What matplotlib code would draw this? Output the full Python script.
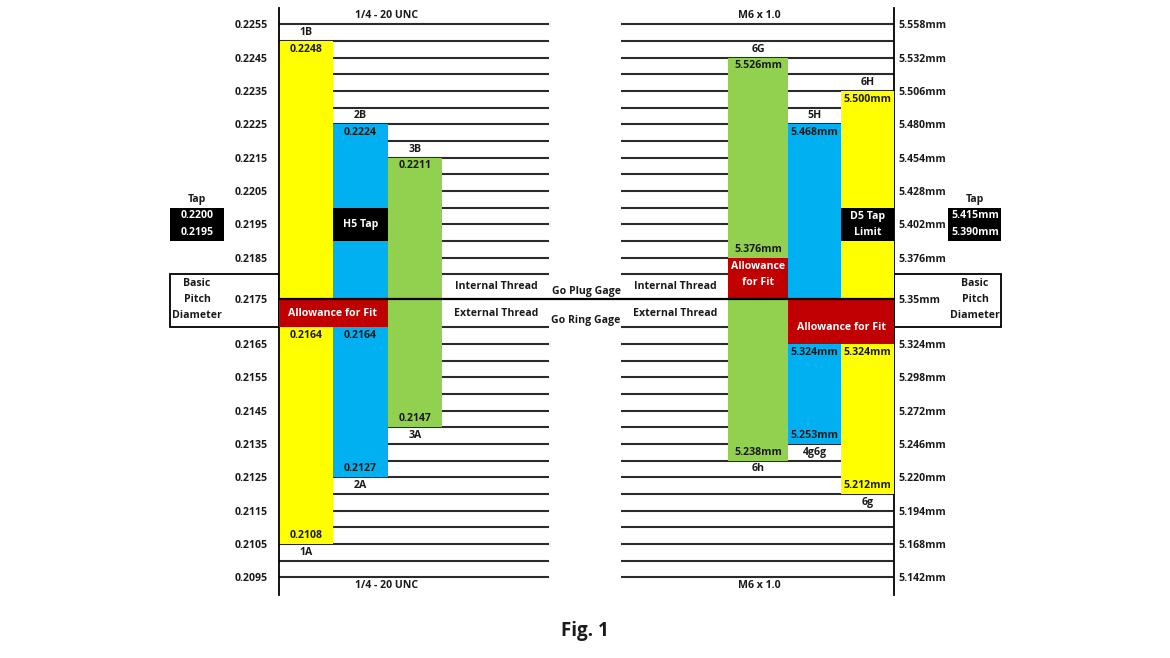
import numpy as np
import matplotlib.pyplot as plt
from matplotlib.patches import Rectangle

plt.rcParams['font.family'] = ['Open Sans', 'DejaVu Sans']
plt.rcParams['font.weight'] = 'bold'
plt.rcParams['font.size'] = 7.6

# -----------------------------------------------------
# 1/4 - 20 UNC (inch side)
# -----------------------------------------------------
inch_ticks = [0.2255, 0.2245, 0.2235, 0.2225, 0.2215, 0.2205, 0.2195, 0.2185,
              0.2175, 0.2165, 0.2155, 0.2145, 0.2135, 0.2125, 0.2115, 0.2105, 0.2095]
basic_in = 0.2175
in_int_class = ["1B", "2B", "3B"]
in_int_top = [0.2250, 0.2225, 0.2215]
in_int_label = ["0.2248", "0.2224", "0.2211"]
in_ext_class = ["1A", "2A", "3A"]
in_ext_top = [0.2170, 0.2170, 0.2175]
in_ext_bottom = [0.2105, 0.2125, 0.2140]
in_ext_top_label = ["0.2164", "0.2164", ""]
in_ext_bottom_label = ["0.2108", "0.2127", "0.2147"]
in_allow = (0.2175, 0.2170)
in_tap_box = (0.2200, 0.2190)
in_tap_limits = ["0.2200", "0.2195"]

# -----------------------------------------------------
# M6 x 1.0 (metric side)
# -----------------------------------------------------
mm_ticks = [5.558, 5.532, 5.506, 5.480, 5.454, 5.428, 5.402, 5.376,
            5.35, 5.324, 5.298, 5.272, 5.246, 5.220, 5.194, 5.168, 5.142]
mm_tick_labels = ["5.558mm", "5.532mm", "5.506mm", "5.480mm", "5.454mm", "5.428mm",
                  "5.402mm", "5.376mm", "5.35mm", "5.324mm", "5.298mm", "5.272mm",
                  "5.246mm", "5.220mm", "5.194mm", "5.168mm", "5.142mm"]
basic_mm = 5.35
mm_int_class = ["6G", "5H", "6H"]
mm_int_top = [5.532, 5.480, 5.506]
mm_int_bottom = [5.376, 5.35, 5.35]
mm_int_label = ["5.526mm", "5.468mm", "5.500mm"]
mm_ext_class = ["6h", "4g6g", "6g"]
mm_ext_top = [5.35, 5.324, 5.324]
mm_ext_bottom = [5.233, 5.246, 5.207]
mm_ext_top_label = ["", "5.324mm", "5.324mm"]
mm_ext_bottom_label = ["5.238mm", "5.253mm", "5.212mm"]
mm_allow_int = (5.376, 5.35)
mm_allow_ext = (5.35, 5.324)
mm_tap_box = (5.415, 5.389)
mm_tap_limits = ["5.415mm", "5.390mm"]

YELLOW, BLUE, GREEN, RED = "#FFFF00", "#00B0F0", "#92D050", "#C00000"
in_colors = [YELLOW, BLUE, GREEN]
mm_colors = [GREEN, BLUE, YELLOW]
TXT = "#1a1a1a"
LINE = "#2b2b2b"

# layout (x in pixels)
in_edges = [279, 333, 388, 442]
mm_edges = [728, 788, 841, 894]
in_lines = (279, 549)
mm_lines = (621, 894)

# -----------------------------------------------------
# y scale: linear, with the band around basic pitch stretched open
# -----------------------------------------------------
V = [0.19, 0.2170, 0.2175, 0.2180, 0.24]
U = [-1227.33, -327.33, -299.33, -274.33, 459.0]


def fwd(v):
    return np.interp(v, V, U)


def inv(u):
    return np.interp(u, U, V)


def mm_to_in(m):
    return basic_in + (np.asarray(m, dtype=float) - basic_mm) / 26.0


def in_to_mm(v):
    return basic_mm + (np.asarray(v, dtype=float) - basic_in) * 26.0


fig = plt.figure(figsize=(11.7, 6.58), dpi=100)
ax = fig.add_axes([279 / 1170, 1 - 595 / 658, (894 - 279) / 1170, 587 / 658])
ax.set_yscale('function', functions=(fwd, inv))
ylo, yhi = float(inv(-595)), float(inv(-8))
ax.set_ylim(ylo, yhi)
ax.set_xlim(279, 894)
ax.set_xticks([])
for s in ["top", "bottom"]:
    ax.spines[s].set_visible(False)
for s in ["left", "right"]:
    ax.spines[s].set_linewidth(1.3)
ax.set_yticks(inch_ticks)
ax.set_yticklabels([f"{t:.4f}" for t in inch_ticks])
ax.tick_params(axis='y', length=0, pad=8, labelsize=7.6, labelcolor=TXT)

axr = ax.twinx()
axr.set_yscale('function', functions=(lambda m: fwd(mm_to_in(m)), lambda u: in_to_mm(inv(u))))
axr.set_ylim(float(in_to_mm(ylo)), float(in_to_mm(yhi)))
for s in axr.spines.values():
    s.set_visible(False)
axr.set_yticks(mm_ticks)
axr.set_yticklabels(mm_tick_labels)
axr.tick_params(axis='y', length=0, pad=3, labelsize=7.6, labelcolor=TXT)

# grid lines
row = 0.0005
rows = [r for r in np.round(np.arange(0.2095, 0.2255 + row / 2, row), 4)
        if not (0.2170 < r < 0.2180)]
ax.hlines(rows, *in_lines, color=LINE, lw=1.5, zorder=1)
ax.hlines(rows, *mm_lines, color=LINE, lw=1.5, zorder=1)

in_xc = [(a + b) / 2 for a, b in zip(in_edges[:-1], in_edges[1:])]
in_w = [b - a for a, b in zip(in_edges[:-1], in_edges[1:])]
mm_xc = [(a + b) / 2 for a, b in zip(mm_edges[:-1], mm_edges[1:])]
mm_w = [b - a for a, b in zip(mm_edges[:-1], mm_edges[1:])]

# ---- inch bars ----
for i in range(3):
    ax.bar(in_xc[i], in_int_top[i] - basic_in, bottom=basic_in, width=in_w[i],
           color=in_colors[i], lw=0, zorder=2)
    ax.bar(in_xc[i], in_ext_top[i] - in_ext_bottom[i], bottom=in_ext_bottom[i],
           width=in_w[i], color=in_colors[i], lw=0, zorder=2)
    ax.text(in_xc[i], in_int_top[i] + row / 2, in_int_class[i], ha='center', va='center', color=TXT)
    ax.text(in_xc[i], in_int_top[i] - row / 2, in_int_label[i], ha='center', va='center', color=TXT)
    if in_ext_top_label[i]:
        ax.text(in_xc[i], in_ext_top[i] - row / 2, in_ext_top_label[i], ha='center', va='center', color=TXT)
    ax.text(in_xc[i], in_ext_bottom[i] + row / 2, in_ext_bottom_label[i], ha='center', va='center', color=TXT)
    ax.text(in_xc[i], in_ext_bottom[i] - row / 2, in_ext_class[i], ha='center', va='center', color=TXT)

ax.add_patch(Rectangle((in_edges[0], in_allow[1]), in_edges[2] - in_edges[0],
                       in_allow[0] - in_allow[1], color=RED, lw=0, zorder=3))
ax.text(in_edges[1], sum(in_allow) / 2, "Allowance for Fit", ha='center', va='center',
        color='white', fontsize=7.6, zorder=4)
ax.add_patch(Rectangle((in_edges[1], in_tap_box[1]), in_w[1], in_tap_box[0] - in_tap_box[1],
                       color='black', lw=0, zorder=3))
ax.text(in_xc[1], sum(in_tap_box) / 2, "H5 Tap", ha='center', va='center', color='white', zorder=4)

# tap box and basic pitch box (left, outside axes)
ax.add_patch(Rectangle((170, in_tap_box[1]), 54, in_tap_box[0] - in_tap_box[1],
                       color='black', lw=0, clip_on=False))
ax.text(197, in_tap_box[0] + row / 2, "Tap", ha='center', va='center', color=TXT)
ax.text(197, in_tap_box[0] - row / 2, in_tap_limits[0], ha='center', va='center', color='white')
ax.text(197, in_tap_box[0] - 1.5 * row, in_tap_limits[1], ha='center', va='center', color='white')
ax.add_patch(Rectangle((170, 0.2170), 109, 0.0010, fill=False, ec='black', lw=1.3, clip_on=False))
ax.text(197, basic_in, "Basic\nPitch\nDiameter", ha='center', va='center', color=TXT,
        linespacing=1.65)

# middle labels
ax.text(496, 0.21775, "Internal Thread", ha='center', va='center', color=TXT)
ax.text(496, 0.21725, "External Thread", ha='center', va='center', color=TXT)
ax.text(675, 0.21775, "Internal Thread", ha='center', va='center', color=TXT)
ax.text(675, 0.21725, "External Thread", ha='center', va='center', color=TXT)
ax.text(586, 0.21765, "Go Plug Gage", ha='center', va='center', color=TXT)
ax.text(586, 0.21713, "Go Ring Gage", ha='center', va='center', color=TXT)

ax.text(387, 0.22575, "1/4 - 20 UNC", ha='center', va='center', color=TXT)
ax.text(387, 0.20925, "1/4 - 20 UNC", ha='center', va='center', color=TXT)
ax.text(759, 0.22575, "M6 x 1.0", ha='center', va='center', color=TXT)
ax.text(759, 0.20925, "M6 x 1.0", ha='center', va='center', color=TXT)

# ---- metric bars ----
mrow = 0.013
for i in range(3):
    axr.bar(mm_xc[i], mm_int_top[i] - mm_int_bottom[i], bottom=mm_int_bottom[i], width=mm_w[i],
            color=mm_colors[i], lw=0, zorder=2)
    axr.bar(mm_xc[i], mm_ext_top[i] - mm_ext_bottom[i], bottom=mm_ext_bottom[i], width=mm_w[i],
            color=mm_colors[i], lw=0, zorder=2)
    axr.text(mm_xc[i], mm_int_top[i] + mrow / 2, mm_int_class[i], ha='center', va='center', color=TXT)
    axr.text(mm_xc[i], mm_int_top[i] - mrow / 2, mm_int_label[i], ha='center', va='center', color=TXT)
    if mm_ext_top_label[i]:
        axr.text(mm_xc[i], mm_ext_top[i] - mrow / 2, mm_ext_top_label[i], ha='center', va='center', color=TXT)
    axr.text(mm_xc[i], mm_ext_bottom[i] + mrow / 2, mm_ext_bottom_label[i], ha='center', va='center', color=TXT)
    axr.text(mm_xc[i], mm_ext_bottom[i] - mrow / 2, mm_ext_class[i], ha='center', va='center', color=TXT)

axr.text(mm_xc[0], mm_int_bottom[0] + mrow / 2, "5.376mm", ha='center', va='center', color=TXT)
axr.add_patch(Rectangle((mm_edges[0], mm_allow_int[1]), mm_w[0], mm_allow_int[0] - mm_allow_int[1],
                        color=RED, lw=0, zorder=3))
axr.text(mm_xc[0], sum(mm_allow_int) / 2, "Allowance\nfor Fit", ha='center', va='center',
         color='white', fontsize=7.6, linespacing=1.6, zorder=4)
axr.add_patch(Rectangle((mm_edges[1], mm_allow_ext[1]), mm_edges[3] - mm_edges[1],
                        mm_allow_ext[0] - mm_allow_ext[1], color=RED, lw=0, zorder=3))
axr.text(mm_edges[2], sum(mm_allow_ext) / 2, "Allowance for Fit", ha='center', va='center',
         color='white', fontsize=7.6, zorder=4)
axr.add_patch(Rectangle((mm_edges[2], mm_tap_box[1]), mm_w[2], mm_tap_box[0] - mm_tap_box[1],
                        color='black', lw=0, zorder=3))
axr.text(mm_xc[2], sum(mm_tap_box) / 2, "D5 Tap\nLimit", ha='center', va='center',
         color='white', linespacing=1.55, zorder=4)

# tap box and basic pitch box (right, outside axes)
axr.add_patch(Rectangle((948, mm_tap_box[1]), 53, mm_tap_box[0] - mm_tap_box[1],
                        color='black', lw=0, clip_on=False))
axr.text(975, mm_tap_box[0] + mrow / 2, "Tap", ha='center', va='center', color=TXT)
axr.text(975, mm_tap_box[0] - mrow / 2, mm_tap_limits[0], ha='center', va='center', color='white')
axr.text(975, mm_tap_box[0] - 1.5 * mrow, mm_tap_limits[1], ha='center', va='center', color='white')
axr.add_patch(Rectangle((894, basic_mm - mrow), 107, 2 * mrow, fill=False, ec='black', lw=1.3,
                        clip_on=False))
axr.text(975, basic_mm, "Basic\nPitch\nDiameter", ha='center', va='center', color=TXT,
         linespacing=1.65)

# basic pitch line across both halves
axr.hlines(basic_mm, 279, 894, color='black', lw=1.6, zorder=6)

fig.text(585 / 1170, 1 - 631 / 658, "Fig. 1", ha='center', va='center', fontsize=13.5,
         color=TXT)

fig.savefig("out.png", dpi=100)
